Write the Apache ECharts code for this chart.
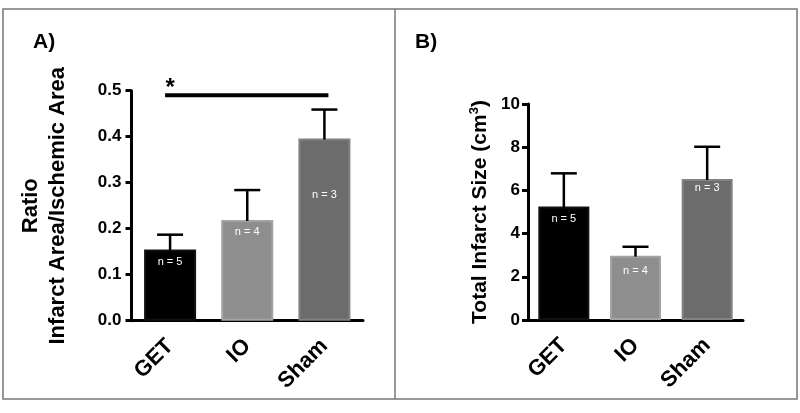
<!DOCTYPE html>
<html>
<head>
<meta charset="utf-8">
<script src="https://cdn.jsdelivr.net/npm/echarts@6/dist/echarts.min.js"></script>
<style>
html,body{margin:0;padding:0;background:#fff;}
#chart{width:800px;height:413px;}
</style>
</head>
<body>
<div id="chart"></div>
<script>
// ---- data ----
const categories = ['GET', 'IO', 'Sham'];
const ratioMean = [0.155, 0.219, 0.396];
const ratioSem = [0.032, 0.065, 0.063];
const ratioN = ['n = 5', 'n = 4', 'n = 3'];
const ratioTicks = [0, 0.1, 0.2, 0.3, 0.4, 0.5];
const sizeMean = [5.25, 2.98, 6.53];
const sizeSem = [1.54, 0.41, 1.49];
const sizeN = ['n = 5', 'n = 4', 'n = 3'];
const sizeTicks = [0, 2, 4, 6, 8, 10];
const sigPair = ['GET', 'Sham'];
const sigLevel = 0.49;
const sigMark = '*';

// ---- styles ----
const FONT = '"Liberation Sans", Arial, Helvetica, sans-serif';
const barColors = ['#000000', '#8e8e8e', '#6c6c6c'];
const barBorders = ['#111111', '#a3a3a3', '#828282'];
const labelDistA = [7, 7, 51];
const labelDistB = [7, 10, 4];

const chart = echarts.init(document.getElementById('chart'), null, {renderer: 'canvas'});

function barData(vals, dists) {
  return vals.map((v, i) => ({
    value: v,
    itemStyle: {color: barColors[i], borderColor: barBorders[i], borderWidth: 2},
    label: {distance: dists[i]}
  }));
}
function errData(vals, sems) {
  return vals.map((v, i) => [i, v, sems[i]]);
}
function renderErr(params, api) {
  const x = api.value(0), m = api.value(1), s = api.value(2);
  const p0 = api.coord([x, m]);
  const p1 = api.coord([x, m + s]);
  const half = 13;
  return {
    type: 'group',
    children: [
      {type: 'line', shape: {x1: p0[0], y1: p0[1] + 1, x2: p1[0], y2: p1[1]}, style: {stroke: '#000', lineWidth: 2.5}},
      {type: 'line', shape: {x1: p1[0] - half, y1: p1[1], x2: p1[0] + half, y2: p1[1]}, style: {stroke: '#000', lineWidth: 2.5}}
    ]
  };
}
const axisCommon = {
  axisLine: {lineStyle: {color: '#000', width: 3}},
  axisTick: {lineStyle: {color: '#000', width: 3}},
  splitLine: {show: false}
};
function xAxis(gi) {
  return Object.assign({}, axisCommon, {
    type: 'category', gridIndex: gi, data: categories,
    axisTick: {alignWithLabel: true, length: 8, lineStyle: {color: '#000', width: 3}},
    axisLabel: {rotate: 45, margin: 22, color: '#000', fontFamily: FONT, fontWeight: 'bold', fontSize: 22}
  });
}
function labelOpts(arr) {
  return {
    show: true, position: 'insideTop', color: '#fff', fontFamily: FONT, fontSize: 11,
    formatter: p => arr[p.dataIndex]
  };
}

const option = {
  animation: false,
  backgroundColor: '#fff',
  grid: [
    {left: 131.5, top: 90.7, width: 231.5, height: 230},
    {left: 528, top: 104, width: 215, height: 216}
  ],
  xAxis: [xAxis(0), xAxis(1)],
  yAxis: [
    Object.assign({}, axisCommon, {
      type: 'value', gridIndex: 0, min: ratioTicks[0], max: ratioTicks[ratioTicks.length - 1], interval: ratioTicks[1] - ratioTicks[0],
      axisLine: {show: true, lineStyle: {color: '#000', width: 3}},
      axisTick: {show: true, length: 6, lineStyle: {color: '#000', width: 3}},
      axisLabel: {margin: 10, color: '#000', fontFamily: FONT, fontWeight: 'bold', fontSize: 17, formatter: v => v.toFixed(1)},
      name: 'Ratio\nInfarct Area/Ischemic Area',
      nameLocation: 'middle', nameRotate: 90, nameGap: 60,
      nameTextStyle: {color: '#000', fontFamily: FONT, fontWeight: 'bold', fontSize: 22, lineHeight: 27}
    }),
    Object.assign({}, axisCommon, {
      type: 'value', gridIndex: 1, min: sizeTicks[0], max: sizeTicks[sizeTicks.length - 1], interval: sizeTicks[1] - sizeTicks[0],
      axisLine: {show: true, lineStyle: {color: '#000', width: 3}},
      axisTick: {show: true, length: 6, lineStyle: {color: '#000', width: 3}},
      axisLabel: {margin: 8, color: '#000', fontFamily: FONT, fontWeight: 'bold', fontSize: 17},
      name: '{a|Total Infarct Size (cm}{s|3}{a|)}',
      nameLocation: 'middle', nameRotate: 90, nameGap: 36,
      nameTextStyle: {
        color: '#000', fontFamily: FONT, fontWeight: 'bold', fontSize: 21,
        rich: {
          a: {color: '#000', fontFamily: FONT, fontWeight: 'bold', fontSize: 21, lineHeight: 24},
          s: {color: '#000', fontFamily: FONT, fontWeight: 'bold', fontSize: 13, verticalAlign: 'top', padding: [0, 0, 10, 0], lineHeight: 24}
        }
      }
    })
  ],
  graphic: [
    {type: 'rect', shape: {x: 3, y: 9, width: 794, height: 390}, style: {fill: 'none', stroke: '#777', lineWidth: 1.5}, z: 100},
    {type: 'line', shape: {x1: 395, y1: 9, x2: 395, y2: 399}, style: {stroke: '#777', lineWidth: 1.5}, z: 100},
    {type: 'text', left: 33, top: 32, style: {text: 'A)', fill: '#000', font: 'bold 21px ' + FONT}},
    {type: 'text', left: 415, top: 32, style: {text: 'B)', fill: '#000', font: 'bold 21px ' + FONT}}
  ],
  series: [
    {type: 'bar', xAxisIndex: 0, yAxisIndex: 0, barWidth: 52, data: barData(ratioMean, labelDistA), label: labelOpts(ratioN), z: 2},
    {type: 'custom', xAxisIndex: 0, yAxisIndex: 0, data: errData(ratioMean, ratioSem), renderItem: renderErr, z: 3, encode: {x: 0, y: 1}},
    {type: 'bar', xAxisIndex: 1, yAxisIndex: 1, barWidth: 51, data: barData(sizeMean, labelDistB), label: labelOpts(sizeN), z: 2},
    {type: 'custom', xAxisIndex: 1, yAxisIndex: 1, data: errData(sizeMean, sizeSem), renderItem: renderErr, z: 3, encode: {x: 0, y: 1}},
    {
      type: 'custom', xAxisIndex: 0, yAxisIndex: 0, z: 4,
      data: [[categories.indexOf(sigPair[0]), categories.indexOf(sigPair[1]), sigLevel]],
      encode: {x: [0, 1], y: 2},
      renderItem: function (params, api) {
        const a = api.coord([api.value(0), api.value(2)]);
        const b = api.coord([api.value(1), api.value(2)]);
        return {
          type: 'group',
          children: [
            {type: 'line', shape: {x1: a[0] - 5, y1: a[1], x2: b[0] + 4, y2: b[1]}, style: {stroke: '#000', lineWidth: 4}},
            {type: 'text', style: {text: sigMark, x: a[0], y: a[1] - 19, align: 'center', verticalAlign: 'top', fill: '#000', font: 'bold 24px ' + FONT}}
          ]
        };
      }
    }
  ]
};
chart.setOption(option);
</script>
</body>
</html>
